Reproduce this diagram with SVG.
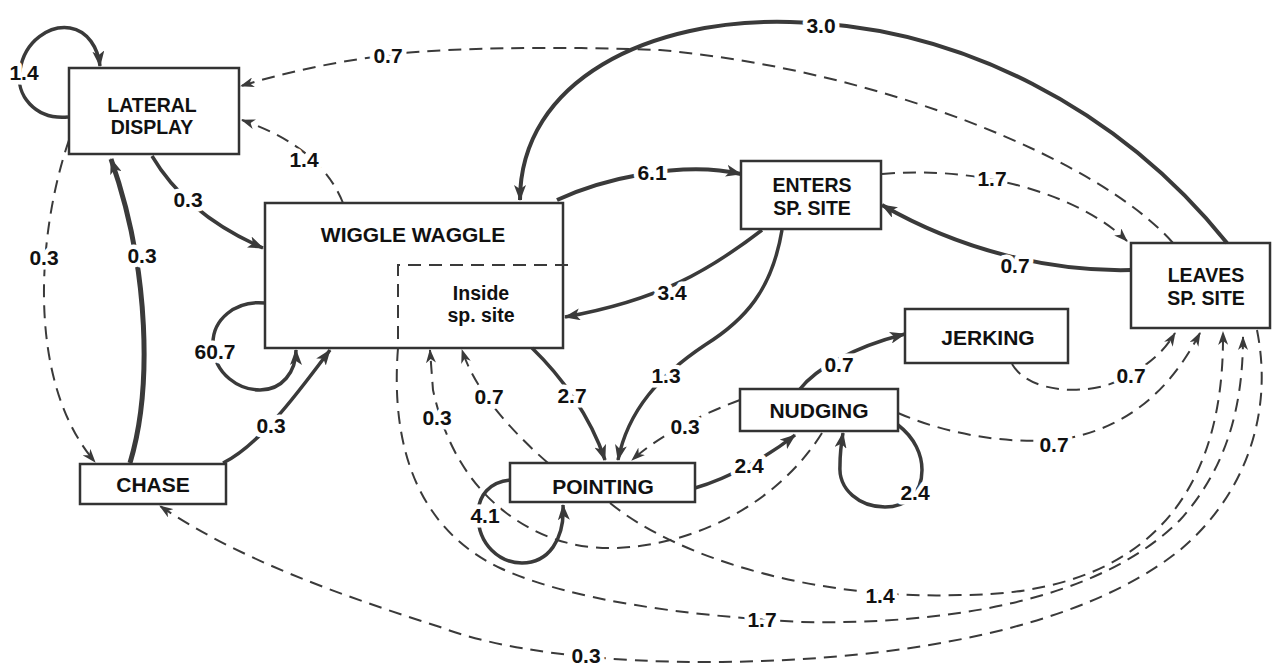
<svg xmlns="http://www.w3.org/2000/svg" width="1272" height="665" viewBox="0 0 1272 665">
<style>
.box{fill:none;stroke:#333;stroke-width:2.5}
.nt{font-family:"Liberation Sans",Arial,sans-serif;font-weight:bold;font-size:21px;fill:#111;text-anchor:middle}
.nt2{font-family:"Liberation Sans",Arial,sans-serif;font-weight:bold;font-size:19.5px;fill:#111;text-anchor:middle}
.lb{font-family:"Liberation Sans",Arial,sans-serif;font-weight:bold;font-size:21px;fill:#111;text-anchor:middle;stroke:#fff;stroke-width:9;paint-order:stroke;stroke-linejoin:round}
.s{fill:none;stroke:#3a3a3a;stroke-width:3.5;marker-end:url(#ah)}
.d{fill:none;stroke:#3a3a3a;stroke-width:2;stroke-dasharray:13 8;marker-end:url(#ahs)}
.dn{fill:none;stroke:#3a3a3a;stroke-width:2;stroke-dasharray:13 8}
</style>
<defs>
<marker id="ah" viewBox="0 0 16 12" refX="15" refY="6" markerWidth="16" markerHeight="12" markerUnits="userSpaceOnUse" orient="auto"><path d="M0,0 L16,6 L0,12 L4,6 z" fill="#3a3a3a"/></marker>
<marker id="ahs" viewBox="0 0 14 10" refX="13" refY="5" markerWidth="14" markerHeight="10" markerUnits="userSpaceOnUse" orient="auto"><path d="M0,0 L14,5 L0,10 L4,5 z" fill="#3a3a3a"/></marker>
</defs>
<rect width="1272" height="665" fill="#fff"/>

<g id="connectors">
<path class="s" d="M68,117 C35,120 15,95 20,70 C25,40 50,25 70,28 C88,31 98,48 100,66"/>
<path class="d" d="M1173,243 C1100,160 880,70 660,50 C560,46 430,48 390,55 C330,62 280,74 241,86"/>
<path class="d" d="M343,203 C330,170 300,140 242,120"/>
<path class="s" d="M152,156 C175,195 210,225 263,248"/>
<path class="d" d="M69,140 C38,230 25,380 95,462"/>
<path class="s" style="stroke-width:5" d="M130,463 C152,390 150,270 111,159"/>
<path class="s" d="M265,303 C235,300 212,320 213,345 C214,375 240,390 260,390 C282,390 296,372 296,350"/>
<path class="s" d="M223,463 C260,445 300,390 330,350"/>
<path class="s" style="stroke-width:4" d="M1227,243 C1120,110 960,25 790,22 C650,18 520,80 520,200"/>
<path class="s" style="stroke-width:4" d="M557,200 C600,180 680,160 741,174"/>
<path class="d" d="M882,174 C980,165 1080,195 1127,241"/>
<path class="s" style="stroke-width:4" d="M1131,270 C1050,272 960,250 882,205"/>
<path class="s" d="M762,230 C710,270 660,300 565,317"/>
<path class="s" d="M782,230 C772,290 745,320 705,345 C660,375 628,410 618,460"/>
<path class="s" d="M532,348 C560,375 590,415 605,460"/>
<path class="d" d="M740,400 C700,415 660,435 632,460"/>
<path class="d" d="M548,463 C510,430 475,390 462,350"/>
<path class="d" d="M822,433 C780,500 700,545 615,548 C570,549 535,535 505,512 C470,485 445,445 433,390 L430,350"/>
<path class="s" d="M510,480 C490,482 478,495 478,515 C478,545 500,563 522,563 C548,563 565,540 563,505"/>
<path class="s" d="M695,488 C730,478 770,455 795,435"/>
<path class="d" d="M610,503 C680,560 820,600 960,595 C1120,595 1225,520 1223,332"/>
<path class="d" d="M398,348 C390,450 420,530 500,568 C570,600 680,615 800,622 C950,625 1100,600 1180,520 C1225,470 1243,410 1243,337"/>
<path class="d" d="M1257,330 C1275,420 1240,500 1180,550 C1080,630 900,660 720,662 C600,663 500,650 440,627 C340,595 240,560 160,506"/>
<path class="d" d="M1012,364 C1030,395 1090,395 1120,380 C1150,365 1165,350 1175,333"/>
<path class="d" d="M898,413 C960,440 1030,445 1070,438 C1130,425 1170,390 1200,333"/>
<path class="s" d="M800,389 C815,370 850,348 905,334"/>
<path class="s" d="M898,425 C915,438 922,455 922,470 C922,495 905,507 885,507 C860,507 838,490 840,465 C840,452 841,445 843,433"/>

<text class="lb" x="24" y="80">1.4</text>
<text class="lb" x="388" y="63">0.7</text>
<text class="lb" x="304" y="167">1.4</text>
<text class="lb" x="188" y="207">0.3</text>
<text class="lb" x="44" y="265">0.3</text>
<text class="lb" x="142" y="263">0.3</text>
<text class="lb" x="215" y="359">60.7</text>
<text class="lb" x="271" y="433">0.3</text>
<text class="lb" x="821" y="33">3.0</text>
<text class="lb" x="652" y="180">6.1</text>
<text class="lb" x="992" y="186">1.7</text>
<text class="lb" x="1015" y="273">0.7</text>
<text class="lb" x="672" y="300">3.4</text>
<text class="lb" x="666" y="383">1.3</text>
<text class="lb" x="572" y="403">2.7</text>
<text class="lb" x="489" y="404">0.7</text>
<text class="lb" x="437" y="425">0.3</text>
<text class="lb" x="685" y="434">0.3</text>
<text class="lb" x="485" y="523">4.1</text>
<text class="lb" x="749" y="473">2.4</text>
<text class="lb" x="839" y="372">0.7</text>
<text class="lb" x="915" y="500">2.4</text>
<text class="lb" x="1131" y="383">0.7</text>
<text class="lb" x="1054" y="452">0.7</text>
<text class="lb" x="880" y="603">1.4</text>
<text class="lb" x="762" y="627">1.7</text>
<text class="lb" x="586" y="663">0.3</text>
</g>

<g id="lateral-display">
<rect class="box" x="69" y="68" width="170" height="86"/>
<text class="nt2" x="152" y="112">LATERAL</text>
<text class="nt2" x="152" y="134">DISPLAY</text>
</g>
<g id="wiggle-waggle">
<rect class="box" x="265" y="203" width="298" height="145"/>
<text class="nt" x="413" y="242">WIGGLE WAGGLE</text>
<path class="dn" d="M568,265 L398,265 L398,348"/>
<text class="nt2" x="481" y="300">Inside</text>
<text class="nt2" x="481" y="322">sp. site</text>
</g>
<g id="enters">
<rect class="box" x="741" y="161" width="140" height="68"/>
<text class="nt2" x="812" y="192">ENTERS</text>
<text class="nt2" x="812" y="215">SP. SITE</text>
</g>
<g id="leaves">
<rect class="box" x="1131" y="243" width="139" height="85"/>
<text class="nt2" x="1206" y="282">LEAVES</text>
<text class="nt2" x="1206" y="305">SP. SITE</text>
</g>
<g id="jerking">
<rect class="box" x="905" y="309" width="163" height="54"/>
<text class="nt" x="988" y="345">JERKING</text>
</g>
<g id="nudging">
<rect class="box" x="740" y="389" width="158" height="42"/>
<text class="nt" x="819" y="418">NUDGING</text>
</g>
<g id="pointing">
<rect class="box" x="510" y="463" width="185" height="39"/>
<text class="nt" x="603" y="494">POINTING</text>
</g>
<g id="chase">
<rect class="box" x="80" y="464" width="146" height="40"/>
<text class="nt" x="153" y="492">CHASE</text>
</g>
</svg>
